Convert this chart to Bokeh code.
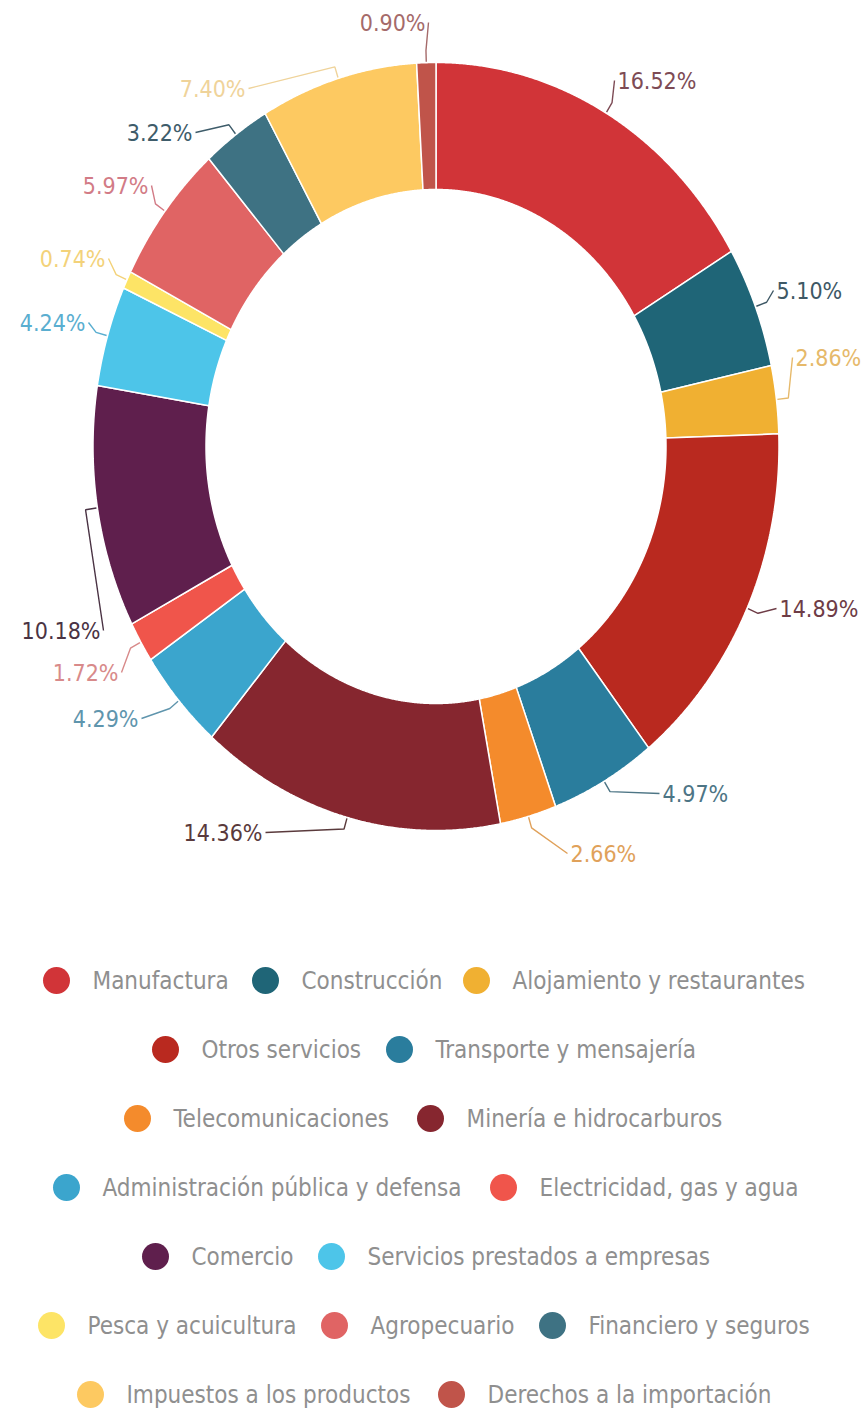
import numpy as np
from bokeh.plotting import figure
from bokeh.models import Range1d, ColumnDataSource
from bokeh.core.properties import value
from bokeh.embed import file_html
from bokeh.resources import INLINE

# ---------------- data ----------------
categories = [
    "Manufactura", "Construcción", "Alojamiento y restaurantes", "Otros servicios",
    "Transporte y mensajería", "Telecomunicaciones", "Minería e hidrocarburos",
    "Administración pública y defensa", "Electricidad, gas y agua", "Comercio",
    "Servicios prestados a empresas", "Pesca y acuicultura", "Agropecuario",
    "Financiero y seguros", "Impuestos a los productos", "Derechos a la importación",
]
shares = [16.52, 5.10, 2.86, 14.89, 4.97, 2.66, 14.36, 4.29, 1.72, 10.18,
          4.24, 0.74, 5.97, 3.22, 7.40, 0.90]

# ---------------- styles ----------------
slice_colors = ["#d13438", "#1f6577", "#f0b032", "#b9291f", "#2a7d9d", "#f48b2c",
                "#86262f", "#3ba5cd", "#f0554b", "#5f1f4d", "#4dc5e9", "#fde466",
                "#e06464", "#3e7283", "#fdc961", "#c0544a"]
label_colors = ["#7d4b55", "#3e5865", "#e6b96a", "#6e3c46", "#4d7585", "#e0a15a",
                "#5a3a3c", "#5f95ad", "#d88a8a", "#4a3344", "#5aaed0", "#f3d27a",
                "#d27b86", "#3e5c6a", "#efd39a", "#a56a6a"]
FONT = value("Liberation Sans Narrow, DejaVu Sans Condensed, Roboto")

# ---------------- layout ----------------
W, H = 866, 1414
CX, CY = 435.5, 446.0
RX_OUT, RY_OUT = 343.0, 384.0
RX_IN, RY_IN = 230.0, 257.0
# percentage label anchors (x, y, align)
label_layout = [(617, 80, "left"), (776, 290, "left"), (795, 357, "left"),
                (779, 608, "left"), (662, 793, "left"), (570, 853, "left"),
                (262, 832, "right"), (138, 718, "right"), (118, 672, "right"),
                (100, 630, "right"), (85, 322, "right"), (105, 258, "right"),
                (148, 185, "right"), (192, 132, "right"), (245, 88, "right"),
                (425, 22, "right")]
legend_rows = [[0, 1, 2], [3, 4], [5, 6], [7, 8], [9, 10], [11, 12, 13], [14, 15]]
legend_dot_x = [[56, 265, 476], [165, 399], [137, 430], [66, 503], [155, 331],
                [51, 334, 552], [90, 451]]
LEG_Y0, LEG_DY, LEG_GAP = 980, 69, 36

p = figure(width=W, height=H, x_range=Range1d(0, W), y_range=Range1d(H, 0),
           toolbar_location=None, output_backend="svg", min_border=0,
           x_axis_type=None, y_axis_type=None, outline_line_color=None,
           background_fill_color="white", border_fill_color="white")
p.grid.visible = False

# ---------------- donut slices ----------------
total = float(np.sum(shares))
cum = np.concatenate([[0.0], np.cumsum(shares)]) / total * 2 * np.pi
xs, ys = [], []
for i in range(len(shares)):
    a0, a1 = cum[i], cum[i + 1]
    t = np.linspace(a0, a1, max(6, int((a1 - a0) / 0.004)))
    xo = CX + RX_OUT * np.sin(t)
    yo = CY - RY_OUT * np.cos(t)
    xi = CX + RX_IN * np.sin(t[::-1])
    yi = CY - RY_IN * np.cos(t[::-1])
    xs.append(list(np.concatenate([xo, xi])))
    ys.append(list(np.concatenate([yo, yi])))
p.patches(xs=xs, ys=ys, fill_color=slice_colors, line_color="white", line_width=1.5)

# ---------------- leader lines + labels ----------------
mids = (cum[:-1] + cum[1:]) / 2
lx, ly = [], []
for i, m in enumerate(mids):
    x0 = CX + (RX_OUT + 1) * np.sin(m)
    y0 = CY - (RY_OUT + 1) * np.cos(m)
    x1 = CX + (RX_OUT + 12) * np.sin(m)
    y1 = CY - (RY_OUT + 12) * np.cos(m)
    tx, ty, al = label_layout[i]
    x2 = tx - 3 if al == "left" else tx + 3
    lx.append([x0, x1, x2])
    ly.append([y0, y1, ty])
p.multi_line(xs=lx, ys=ly, line_color=label_colors, line_width=1.4)

pct = ["%.2f%%" % v for v in shares]
for al in ("left", "right"):
    idx = [i for i in range(len(shares)) if label_layout[i][2] == al]
    src = ColumnDataSource(dict(x=[label_layout[i][0] for i in idx],
                                y=[label_layout[i][1] for i in idx],
                                t=[pct[i] for i in idx],
                                c=[label_colors[i] for i in idx]))
    p.text(x="x", y="y", text="t", text_color="c", source=src, text_align=al,
           text_baseline="middle", text_font=FONT, text_font_size="23px")

# ---------------- legend ----------------
dx, dy, dc, tx_, tt = [], [], [], [], []
for r, row in enumerate(legend_rows):
    y = LEG_Y0 + r * LEG_DY
    for k, i in enumerate(row):
        dx.append(legend_dot_x[r][k])
        dy.append(y)
        dc.append(slice_colors[i])
        tx_.append(legend_dot_x[r][k] + LEG_GAP)
        tt.append(categories[i])
p.scatter(x=dx, y=dy, size=27, fill_color=dc, line_color=None)
p.text(x=tx_, y=dy, text=tt, text_color="#8f8f8f", text_align="left",
       text_baseline="middle", text_font=FONT, text_font_size="24px")

open("out.html", "w").write(file_html(p, INLINE))
